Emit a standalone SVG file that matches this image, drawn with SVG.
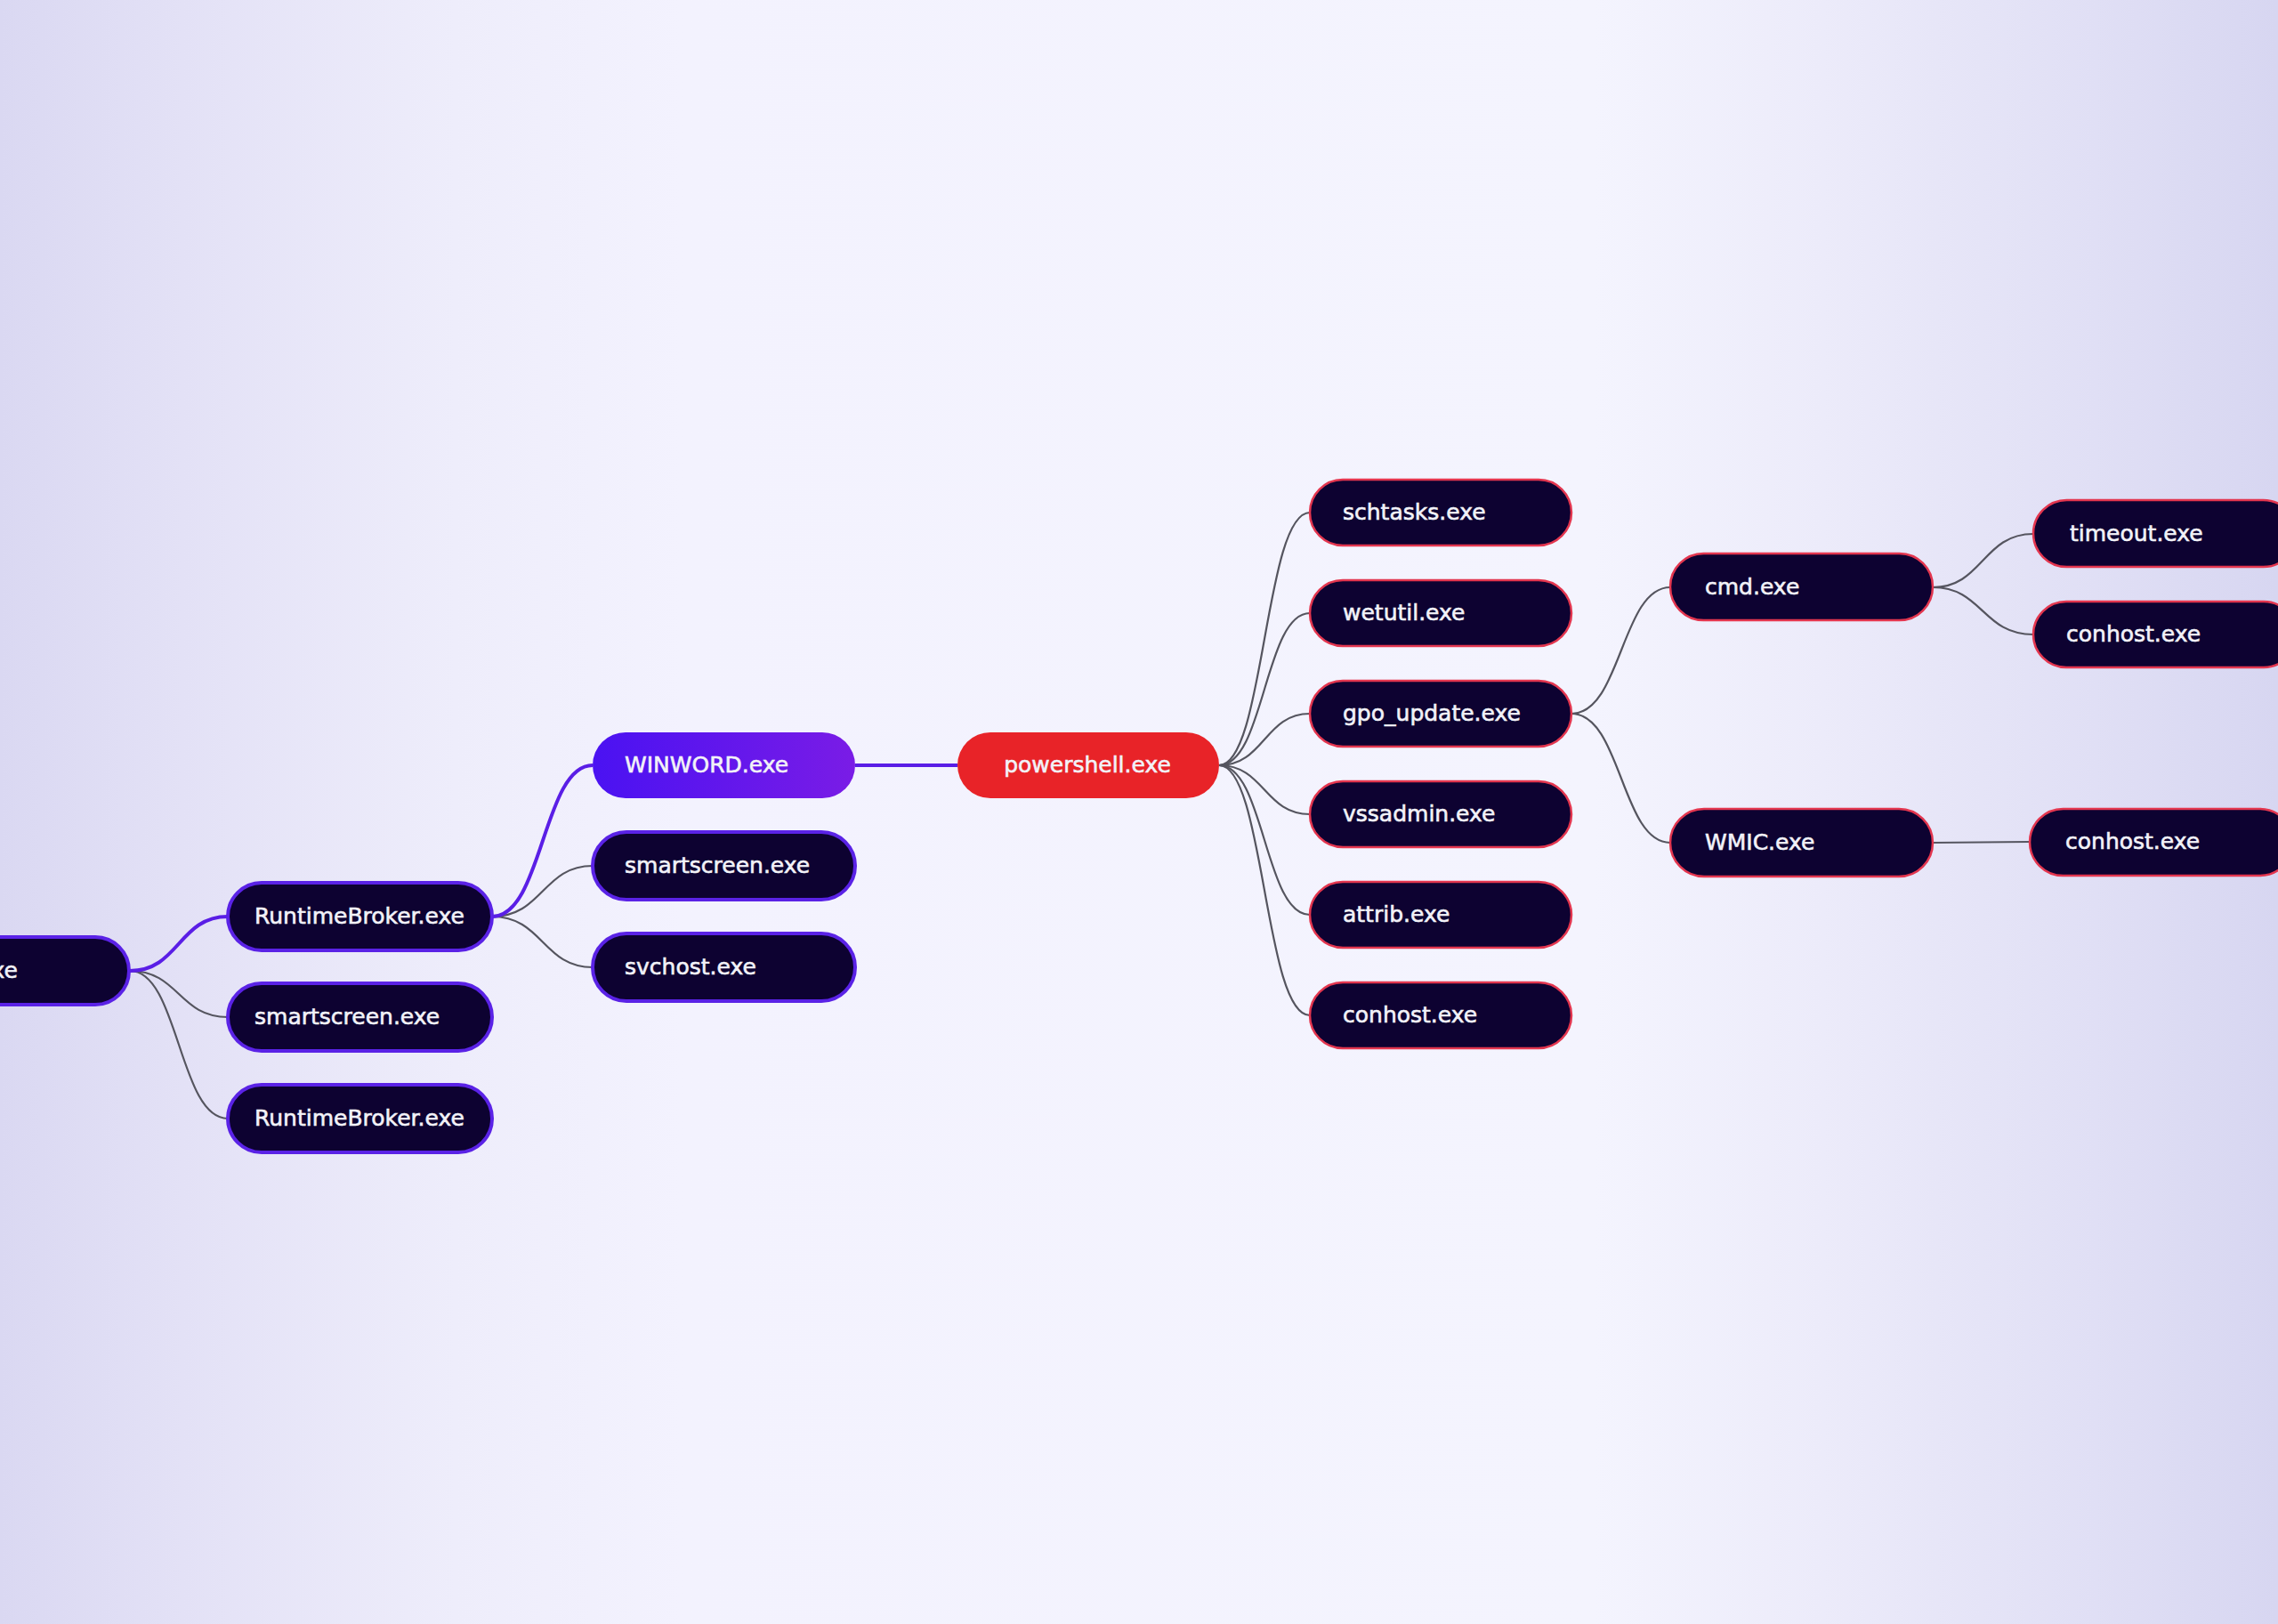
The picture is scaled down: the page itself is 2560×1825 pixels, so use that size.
<svg xmlns="http://www.w3.org/2000/svg" width="2560" height="1825" viewBox="0 0 2560 1825">
  <defs>
    <linearGradient id="bg" x1="0" y1="0" x2="1" y2="0">
      <stop offset="0" stop-color="#DAD8F2"/>
      <stop offset="0.08" stop-color="#E3E1F6"/>
      <stop offset="0.2" stop-color="#EEEDFB"/>
      <stop offset="0.3" stop-color="#F3F2FE"/>
      <stop offset="0.7" stop-color="#F4F4FE"/>
      <stop offset="0.8" stop-color="#ECEBFA"/>
      <stop offset="0.92" stop-color="#E0DFF5"/>
      <stop offset="1" stop-color="#D7D6F1"/>
    </linearGradient>
    <linearGradient id="word" x1="0" y1="0" x2="1" y2="0">
      <stop offset="0" stop-color="#4A12F2"/>
      <stop offset="1" stop-color="#7A1CE6"/>
    </linearGradient>
    <style>
      .n { fill: #0D0231; }
      .np { stroke: #5A22E6; stroke-width: 4; }
      .nr { stroke: #E3364F; stroke-width: 2.5; }
      .t { font-family: "DejaVu Sans", "Liberation Sans", sans-serif; font-size: 25px; fill: #F2F2F8; stroke: #F2F2F8; stroke-width: 0.6; }
      .g { fill: none; stroke: #55555F; stroke-width: 2.2; }
      .p { fill: none; stroke: #5A1EE6; stroke-width: 4; }
    </style>
  </defs>
  <rect x="0" y="0" width="2560" height="1825" fill="url(#bg)"/>

  <g id="connectors">
    <path class="g" d="M146 1091 C201 1091 201 1143 256 1143"/>
    <path class="g" d="M146 1091 C201 1091 201 1257 256 1257"/>
    <path class="p" d="M146 1091 C201 1091 201 1030 256 1030"/>
    <path class="g" d="M553 1030 C610 1030 610 973 666 973"/>
    <path class="g" d="M553 1030 C610 1030 610 1087 666 1087"/>
    <path class="p" d="M553 1030 C610 1030 610 860 666 860"/>
    <path class="p" d="M961 860 L1076 860"/>
    <path class="g" d="M1370 860 C1421 860 1421 576 1472 576"/>
    <path class="g" d="M1370 860 C1421 860 1421 689 1472 689"/>
    <path class="g" d="M1370 860 C1421 860 1421 802 1472 802"/>
    <path class="g" d="M1370 860 C1421 860 1421 915 1472 915"/>
    <path class="g" d="M1370 860 C1421 860 1421 1028 1472 1028"/>
    <path class="g" d="M1370 860 C1421 860 1421 1141 1472 1141"/>
    <path class="g" d="M1766 802 C1822 802 1822 660 1877 660"/>
    <path class="g" d="M1766 802 C1822 802 1822 947 1877 947"/>
    <path class="g" d="M2172 660 C2228 660 2228 600 2285 600"/>
    <path class="g" d="M2172 660 C2228 660 2228 713 2285 713"/>
    <path class="g" d="M2172 947 L2281 946"/>
  </g>

  <g id="node-root">
    <rect class="n np" x="-151" y="1053" width="296" height="76" rx="38"/>
    <text class="t" x="20" y="1099" text-anchor="end">.exe</text>
  </g>
  <g id="node-runtimebroker-1">
    <rect class="n np" x="256" y="992" width="297" height="76" rx="38"/>
    <text class="t" x="286" y="1038">RuntimeBroker.exe</text>
  </g>
  <g id="node-smartscreen-1">
    <rect class="n np" x="256" y="1105" width="297" height="76" rx="38"/>
    <text class="t" x="286" y="1151">smartscreen.exe</text>
  </g>
  <g id="node-runtimebroker-2">
    <rect class="n np" x="256" y="1219" width="297" height="76" rx="38"/>
    <text class="t" x="286" y="1265">RuntimeBroker.exe</text>
  </g>
  <g id="node-winword">
    <rect x="666" y="823" width="295" height="74" rx="37" fill="url(#word)"/>
    <text class="t" x="702" y="868">WINWORD.exe</text>
  </g>
  <g id="node-smartscreen-2">
    <rect class="n np" x="666" y="935" width="295" height="76" rx="38"/>
    <text class="t" x="702" y="981">smartscreen.exe</text>
  </g>
  <g id="node-svchost">
    <rect class="n np" x="666" y="1049" width="295" height="76" rx="38"/>
    <text class="t" x="702" y="1095">svchost.exe</text>
  </g>
  <g id="node-powershell">
    <rect x="1076" y="823" width="294" height="74" rx="37" fill="#E82328"/>
    <text class="t" x="1222" y="868" text-anchor="middle">powershell.exe</text>
  </g>
  <g id="node-schtasks">
    <rect class="n nr" x="1472" y="539" width="294" height="74" rx="37"/>
    <text class="t" x="1509" y="584">schtasks.exe</text>
  </g>
  <g id="node-wetutil">
    <rect class="n nr" x="1472" y="652" width="294" height="74" rx="37"/>
    <text class="t" x="1509" y="697">wetutil.exe</text>
  </g>
  <g id="node-gpo-update">
    <rect class="n nr" x="1472" y="765" width="294" height="74" rx="37"/>
    <text class="t" x="1509" y="810">gpo_update.exe</text>
  </g>
  <g id="node-vssadmin">
    <rect class="n nr" x="1472" y="878" width="294" height="74" rx="37"/>
    <text class="t" x="1509" y="923">vssadmin.exe</text>
  </g>
  <g id="node-attrib">
    <rect class="n nr" x="1472" y="991" width="294" height="74" rx="37"/>
    <text class="t" x="1509" y="1036">attrib.exe</text>
  </g>
  <g id="node-conhost-1">
    <rect class="n nr" x="1472" y="1104" width="294" height="74" rx="37"/>
    <text class="t" x="1509" y="1149">conhost.exe</text>
  </g>
  <g id="node-cmd">
    <rect class="n nr" x="1877" y="622" width="295" height="75" rx="37.5"/>
    <text class="t" x="1916" y="668">cmd.exe</text>
  </g>
  <g id="node-wmic">
    <rect class="n nr" x="1877" y="909" width="295" height="76" rx="38"/>
    <text class="t" x="1916" y="955">WMIC.exe</text>
  </g>
  <g id="node-timeout">
    <rect class="n nr" x="2285" y="562" width="296" height="75" rx="37.5"/>
    <text class="t" x="2326" y="608">timeout.exe</text>
  </g>
  <g id="node-conhost-2">
    <rect class="n nr" x="2285" y="676" width="296" height="74" rx="37"/>
    <text class="t" x="2322" y="721">conhost.exe</text>
  </g>
  <g id="node-conhost-3">
    <rect class="n nr" x="2281" y="909" width="296" height="75" rx="37.5"/>
    <text class="t" x="2321" y="954">conhost.exe</text>
  </g>
</svg>
